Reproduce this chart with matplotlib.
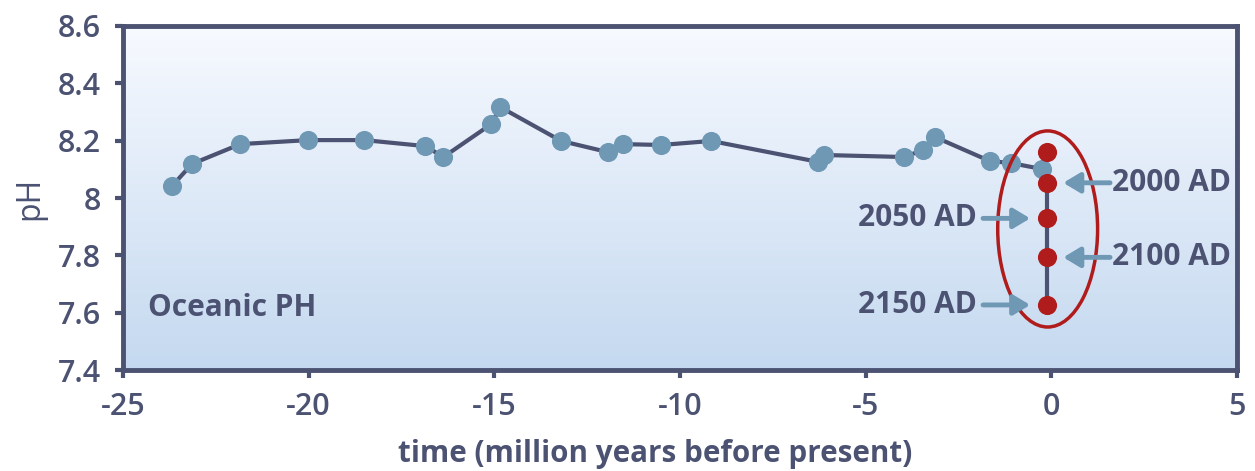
import matplotlib.pyplot as plt
from matplotlib.patches import Ellipse
import numpy as np

plt.rcParams['font.family'] = ['Open Sans', 'DejaVu Sans']

# ocean pH over the last ~25 million years
time_myr = [-23.68, -23.14, -21.84, -20.01, -18.50, -16.86, -16.37, -15.08, -14.84,
            -13.20, -11.94, -11.53, -10.51, -9.16, -6.28, -6.12, -3.97, -3.46, -3.14,
            -1.66, -1.09, -0.25]
ph = [8.042, 8.119, 8.188, 8.202, 8.202, 8.181, 8.143, 8.258, 8.317,
      8.199, 8.160, 8.188, 8.185, 8.199, 8.126, 8.150, 8.143, 8.167, 8.213,
      8.129, 8.122, 8.101]

# projections
proj_time = [-0.11, -0.11, -0.11, -0.11, -0.11]
proj_ph = [8.162, 8.053, 7.929, 7.793, 7.627]
proj_labels = ['', '2000 AD', '2050 AD', '2100 AD', '2150 AD']

dark = '#4b5272'
blue = '#6f98b5'
red = '#b01c1c'

fig = plt.figure(figsize=(12.55, 4.71), dpi=100)
ax = fig.add_axes([0.098, 0.2144, 0.8877, 0.7304])

# background gradient
grad = np.linspace(0, 1, 256).reshape(-1, 1)
top = np.array([0.97, 0.98, 1.0])
bot = np.array([0.77, 0.85, 0.94])
img = top + (bot - top) * grad[:, :, None]
ax.imshow(img, extent=[-25, 5, 7.4, 8.6], aspect='auto', origin='upper', zorder=0)

ax.plot(time_myr, ph, color=dark, lw=3, zorder=2)
ax.plot([time_myr[-1], proj_time[1]], [ph[-1], proj_ph[1]], color=dark, lw=3, zorder=2)
ax.plot(proj_time[1:], proj_ph[1:], color=dark, lw=3, zorder=2)
ax.scatter(time_myr, ph, s=190, color=blue, zorder=3, linewidths=0)
ax.scatter(proj_time, proj_ph, s=190, color=red, zorder=4, linewidths=0)

ax.add_patch(Ellipse((-0.10, 7.892), 2.69, 0.684, fill=False, ec=red, lw=2.5, zorder=5))

# arrows + labels
for i, lab in enumerate(proj_labels):
    if not lab:
        continue
    y = proj_ph[i]
    if i % 2 == 1:
        tip, tail, tx, ha = 0.32, 1.58, 1.64, 'left'
    else:
        tip, tail, tx, ha = -0.57, -1.84, -2.0, 'right'
    ax.annotate('', xy=(tip, y), xytext=(tail, y),
                arrowprops=dict(arrowstyle='-|>,head_width=0.6,head_length=1.0',
                                color=blue, lw=3.5, shrinkA=0, shrinkB=0), zorder=5)
    ax.text(tx, y, lab, ha=ha, va='center', fontsize=21.5, fontweight='bold', color=dark)

ax.text(-24.32, 7.616, 'Oceanic PH', ha='left', va='center', fontsize=21.5,
        fontweight='bold', color=dark)

ax.set_xlim(-25, 5)
ax.set_ylim(7.4, 8.6)
ax.set_xticks([-25, -20, -15, -10, -5, 0, 5])
ax.set_xticklabels(['-25', '-20', '-15', '-10', '-5', '0', '5'])
ax.set_yticks([7.4, 7.6, 7.8, 8.0, 8.2, 8.4, 8.6])
ax.set_yticklabels(['7.4', '7.6', '7.8', '8', '8.2', '8.4', '8.6'])
ax.tick_params(colors=dark, labelsize=22, width=3, length=6)
ax.tick_params(axis='x', pad=10)
ax.tick_params(axis='y', pad=10)
for t in ax.get_xticklabels() + ax.get_yticklabels():
    t.set_family(['Open Sans SemiBold', 'Open Sans', 'DejaVu Sans'])
    t.set_fontweight('semibold')
for s in ax.spines.values():
    s.set_color(dark)
    s.set_linewidth(3.5)

ax.set_xlabel('time (million years before present)', fontsize=21.3, fontweight='bold',
              color=dark)
ax.xaxis.set_label_coords(0.4776, -0.2)
ax.set_ylabel('pH', fontsize=23, color=dark, labelpad=8)

fig.savefig('out.png', dpi=100)
